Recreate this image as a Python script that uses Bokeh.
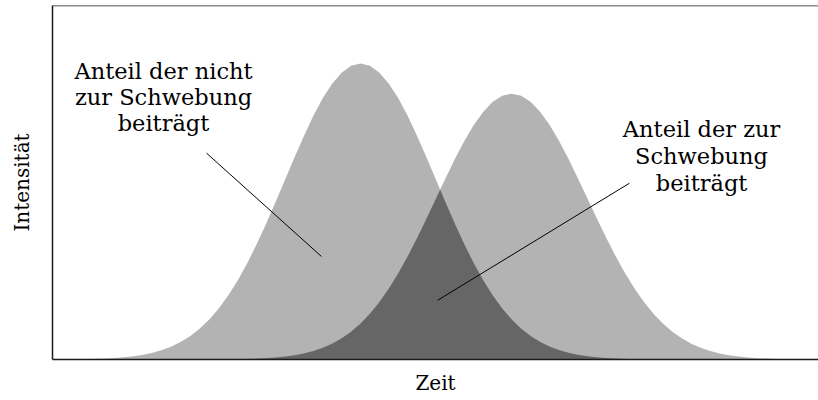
import numpy as np
from bokeh.plotting import figure
from bokeh.models import Range1d, Span, FixedTicker
from bokeh.core.properties import value
from bokeh.embed import file_html
from bokeh.resources import INLINE

# ---- data ----
zeit = [0.0, 0.125, 0.25, 0.375, 0.5, 0.625, 0.75, 0.875, 1.0, 1.125, 1.25, 1.375,
        1.5, 1.625, 1.75, 1.875, 2.0, 2.125, 2.25, 2.375, 2.5, 2.625, 2.75, 2.875,
        3.0, 3.125, 3.25, 3.375, 3.5, 3.625, 3.75, 3.875, 4.0, 4.125, 4.25, 4.375,
        4.5, 4.625, 4.75, 4.875, 5.0, 5.125, 5.25, 5.375, 5.5, 5.625, 5.75, 5.875,
        6.0, 6.125, 6.25, 6.375, 6.5, 6.625, 6.75, 6.875, 7.0, 7.125, 7.25, 7.375,
        7.5, 7.625, 7.75, 7.875, 8.0, 8.125, 8.25, 8.375, 8.5, 8.625, 8.75, 8.875,
        9.0, 9.125, 9.25, 9.375, 9.5, 9.625, 9.75, 9.875, 10.0]
puls1 = [0.0003, 0.0005, 0.0007, 0.0012, 0.0018, 0.0028, 0.0042, 0.0063, 0.0093,
         0.0134, 0.0191, 0.0267, 0.0367, 0.0498, 0.0665, 0.0874, 0.1131, 0.1441,
         0.1808, 0.2233, 0.2714, 0.3248, 0.3827, 0.4440, 0.5071, 0.5701, 0.6310,
         0.6877, 0.7378, 0.7792, 0.8103, 0.8295, 0.8360, 0.8295, 0.8103, 0.7792,
         0.7378, 0.6877, 0.6310, 0.5701, 0.5071, 0.4440, 0.3827, 0.3248, 0.2714,
         0.2233, 0.1808, 0.1441, 0.1131, 0.0874, 0.0665, 0.0498, 0.0367, 0.0267,
         0.0191, 0.0134, 0.0093, 0.0063, 0.0042, 0.0028, 0.0018, 0.0012, 0.0007,
         0.0005, 0.0003, 0.0002, 0.0001, 0.0001, 0.0, 0.0, 0.0, 0.0, 0.0, 0.0,
         0.0, 0.0, 0.0, 0.0, 0.0, 0.0, 0.0]
puls2 = [0.0, 0.0, 0.0, 0.0, 0.0, 0.0, 0.0, 0.0, 0.0, 0.0, 0.0, 0.0, 0.0, 0.0001,
         0.0001, 0.0002, 0.0003, 0.0004, 0.0007, 0.0011, 0.0016, 0.0025, 0.0038,
         0.0057, 0.0083, 0.0120, 0.0171, 0.0239, 0.0330, 0.0447, 0.0597, 0.0785,
         0.1016, 0.1295, 0.1624, 0.2006, 0.2438, 0.2918, 0.3438, 0.3989, 0.4555,
         0.5121, 0.5669, 0.6178, 0.6628, 0.7000, 0.7279, 0.7452, 0.7510, 0.7452,
         0.7279, 0.7000, 0.6628, 0.6178, 0.5669, 0.5121, 0.4555, 0.3989, 0.3438,
         0.2918, 0.2438, 0.2006, 0.1624, 0.1295, 0.1016, 0.0785, 0.0597, 0.0447,
         0.0330, 0.0239, 0.0171, 0.0120, 0.0083, 0.0057, 0.0038, 0.0025, 0.0016,
         0.0011, 0.0007, 0.0004, 0.0003]

text_links = ["Anteil der nicht", "zur Schwebung", "beiträgt"]
text_rechts = ["Anteil der zur", "Schwebung", "beiträgt"]

SERIF = "DejaVu Serif"
LIGHT = "#b3b3b3"
DARK = "#666666"

p = figure(width=818, height=400,
           x_range=Range1d(-0.074, 10.058), y_range=Range1d(0, 1),
           output_backend="svg", toolbar_location=None,
           min_border_left=52, min_border_right=0, min_border_top=5,
           min_border_bottom=41)
p.outline_line_color = None
p.grid.visible = False
p.background_fill_color = "white"
p.border_fill_color = "white"

# areas
p.varea(x=zeit, y1=0, y2=puls1, fill_color=LIGHT)
p.varea(x=zeit, y1=0, y2=puls2, fill_color=LIGHT)
xf = np.linspace(zeit[0], zeit[-1], 4001)
overlap = np.minimum(np.interp(xf, zeit, puls1), np.interp(xf, zeit, puls2))
p.varea(x=xf, y1=0, y2=overlap, fill_color=DARK)

# annotation lines
p.segment(x0=[1.963, 5.019], y0=[0.583, 0.167], x1=[3.484, 7.558], y1=[0.291, 0.498],
          line_color="black", line_width=1)

# annotation texts
p.text(x=[1.394] * 3, y=[0.814, 0.742, 0.669], text=text_links,
       text_align="center", text_baseline="alphabetic",
       text_font=value(SERIF), text_font_size=value("22.5px"), text_color="black")
p.text(x=[8.511] * 3, y=[0.650, 0.575, 0.500], text=text_rechts,
       text_align="center", text_baseline="alphabetic",
       text_font=value(SERIF), text_font_size=value("22.5px"), text_color="black")

# axes
for ax in (p.xaxis[0], p.yaxis[0]):
    ax.ticker = FixedTicker(ticks=[])
    ax.major_tick_line_color = None
    ax.minor_tick_line_color = None
    ax.major_tick_out = 0
    ax.major_tick_in = 0
    ax.major_label_standoff = 0
    ax.major_label_text_font_size = "0px"
    ax.axis_line_color = "#1a1a1a"
    ax.axis_line_width = 1.5
    ax.axis_label_text_font = SERIF
    ax.axis_label_text_font_style = "normal"
    ax.axis_label_text_font_size = "20px"
    ax.axis_label_text_color = "black"

p.xaxis.axis_label = "Zeit"
p.xaxis.axis_label_standoff = 11
p.yaxis.axis_label = "Intensität"
p.yaxis.axis_label_standoff = 19

p.add_layout(Span(location=1, dimension="width", line_color="#1a1a1a", line_width=1.5))

open("out.html", "w").write(file_html(p, INLINE))
